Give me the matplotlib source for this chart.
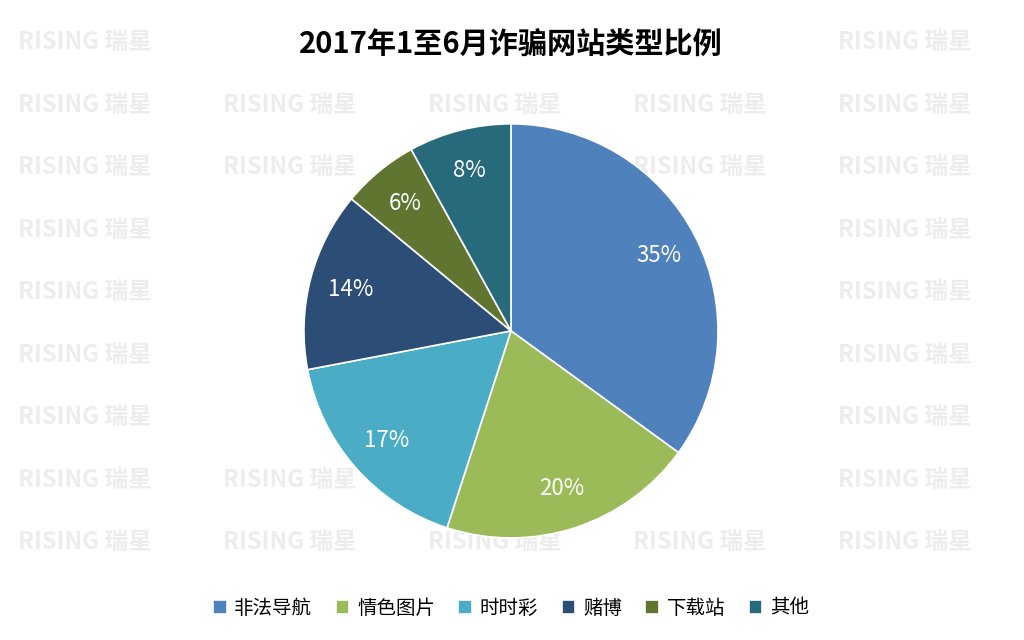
import matplotlib
matplotlib.use("Agg")
import matplotlib.pyplot as plt
import numpy as np

plt.rcParams['font.family'] = ['Noto Sans CJK SC', 'DejaVu Sans']

categories = ['非法导航', '情色图片', '时时彩', '赌博', '下载站', '其他']
values = [35, 20, 17, 14, 6, 8]
colors = ['#4F81BD', '#9BBB59', '#4BACC6', '#2C4D75', '#5F7530', '#276A7C']

fig = plt.figure(figsize=(10.24, 6.4), dpi=100)

# watermark (cells hidden by title or pie are skipped)
for r in range(9):
    ypx = 42 + r * 62.5
    for c in range(5):
        xpx = 18 + c * 205
        if r == 0 and c in (1, 2, 3):
            continue
        nx = min(max(511, xpx), xpx + 135)
        ny = min(max(331, ypx - 10), ypx + 10)
        if (nx - 511) ** 2 + (ny - 331) ** 2 < 185 ** 2:
            continue
        fig.text(xpx / 1024, 1 - ypx / 640, 'RISING 瑞星', fontsize=17, fontweight='bold',
                 color='#EDEDED', va='center', ha='left', zorder=0)

ax = fig.add_axes([0.499 - 0.2022, 0.483 - 0.3235, 0.4044, 0.647], zorder=2)
ax.patch.set_visible(False)
wedges, texts = ax.pie(values, colors=colors, startangle=90, counterclock=False,
                       wedgeprops=dict(edgecolor='white', linewidth=1.2))
for w, v in zip(wedges, values):
    ang = np.deg2rad((w.theta1 + w.theta2) / 2)
    ax.text(0.8 * np.cos(ang), 0.8 * np.sin(ang), f'{v}%', color='white', fontsize=16,
            ha='center', va='center')
ax.set_xlim(-1, 1)
ax.set_ylim(-1, 1)
ax.set_aspect('equal')

fig.text(0.499, 1 - 45 / 640, '2017年1至6月诈骗网站类型比例', fontsize=21, fontweight='bold',
         ha='center', va='center', zorder=3)

fig.legend(wedges, categories, loc='center', bbox_to_anchor=(0.499, 1 - 608 / 640), ncol=6,
           frameon=False, fontsize=14, handlelength=0.7, handleheight=0.7,
           columnspacing=1.2, handletextpad=0.4)

fig.savefig('out.png', dpi=100)
